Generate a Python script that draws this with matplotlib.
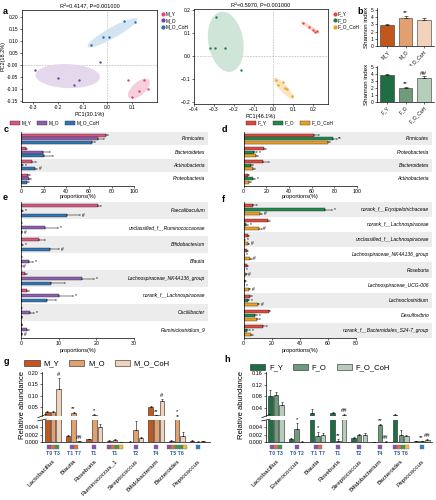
import numpy as np
import matplotlib
matplotlib.use('Agg')
import matplotlib.pyplot as plt
from matplotlib.patches import Polygon, Rectangle, Patch
from matplotlib.lines import Line2D
from matplotlib.transforms import blended_transform_factory as btf

plt.rcParams['font.family'] = ['Liberation Sans', 'DejaVu Sans']
plt.rcParams['axes.linewidth'] = 0.5

# ---------------- data ----------------
# a: PCoA (mouse model)
m_groups = ['M_Y', 'M_O', 'M_O_CoH']
m_y_pc1 = [0.084, 0.148, 0.127, 0.165, 0.100]
m_y_pc2 = [-0.064, -0.064, -0.108, -0.099, -0.134]
m_o_pc1 = [-0.290, -0.197, -0.113, -0.135, -0.030]
m_o_pc2 = [-0.020, -0.055, -0.064, -0.085, 0.011]
m_oc_pc1 = [-0.065, -0.016, 0.008, 0.067, 0.110]
m_oc_pc2 = [0.083, 0.116, 0.116, 0.182, 0.178]
# a: PCoA (fly model)
f_groups = ['F_Y', 'F_O', 'F_O_CoH']
f_y_pc1 = [0.147, 0.180, 0.197, 0.208, 0.220]
f_y_pc2 = [0.142, 0.125, 0.113, 0.106, 0.109]
f_o_pc1 = [-0.288, -0.317, -0.292, -0.245, -0.163]
f_o_pc2 = [0.171, 0.033, 0.033, 0.033, -0.061]
f_oc_pc1 = [0.012, 0.022, 0.050, 0.058, 0.067, 0.092]
f_oc_pc2 = [-0.107, -0.128, -0.116, -0.141, -0.143, -0.177]

# b: Shannon index
shannon_m = [2.9, 3.9, 3.6]
shannon_m_err = [0.15, 0.25, 0.25]
shannon_m_sig = ['', '**', '']
shannon_f = [3.9, 2.0, 3.5]
shannon_f_err = [0.12, 0.15, 0.15]
shannon_f_sig = ['', '**', '##']

# c: phyla (mouse)
phyla_c = ['Firmicutes', 'Bacteroidetes', 'Actinobacteria', 'Proteobacteria']
c_my = [75, 4.4, 10, 6]
c_my_err = [2, 1.2, 3, 2]
c_mo = [68, 19, 1, 7]
c_mo_err = [5, 7, 1, 2]
c_moc = [62.5, 20, 12, 5]
c_moc_err = [3, 8, 2, 2]
c_sig_mo = ['', '', '*', '']
c_sig_moc = ['', '', '#', '']

# d: phyla (fly)
phyla_d = ['Firmicutes', 'Proteobacteria', 'Bacteroidetes', 'Actinobacteria']
d_fy = [62, 18, 17, 4]
d_fy_err = [4, 2, 5, 1]
d_fo = [79, 9, 6, 8]
d_fo_err = [3, 3, 2, 2]
d_foc = [74, 11, 8, 5]
d_foc_err = [2, 2, 2, 1]
d_sig_fo = ['**', '*', '', '*']
d_sig_foc = ['', '', '', '']

# e: genera (mouse)
genera_e = ['Faecalibaculum', 'unclassified_f__Ruminococcaceae', 'Bifidobacterium', 'Blautia',
            'Lachnospiraceae_NK4A136_group', 'norank_f__Lachnospiraceae', 'Oscillibacter',
            'Ruminiclostridium_9']
e_my = [20.3, 0.1, 4.8, 0.1, 1.1, 1.7, 0.1, 0.2]
e_my_err = [1.0, 0.05, 1.5, 0.05, 0.4, 0.5, 0.05, 0.1]
e_mo = [0.3, 6.4, 0.3, 2.1, 16.1, 10.2, 2.4, 1.5]
e_mo_err = [0.3, 3.5, 0.3, 1.0, 3.2, 3.5, 1.0, 0.5]
e_moc = [12.1, 0.2, 7.7, 0.1, 8.0, 6.8, 0.2, 0.2]
e_moc_err = [3.5, 0.1, 2.5, 0.05, 3.8, 2.5, 0.1, 0.1]
e_sig_mo = ['*', '*', '*', '*', '*', '*', '*', '']
e_sig_moc = ['#', '#', '#', '#', '', '', '', '#']

# f: genera (fly)
genera_f = ['norank_f__Erysipelotrichaceae', 'norank_f__Lachnospiraceae',
            'unclassified_f__Lachnospiraceae', 'Lachnospiraceae_NK4A136_group', 'Roseburia',
            'Lachnospiraceae_UCG-006', 'Lachnoclostridium', 'Desulfovibrio',
            'norank_f__Bacteroidales_S24-7_group']
f_fy = [6.6, 17.3, 3.0, 2.6, 2.4, 1.2, 4.3, 17.8, 13.7]
f_fy_err = [3, 1.5, 1, 0.8, 0.8, 0.5, 1.5, 1.2, 3]
f_fo = [58, 1.9, 0.5, 0.3, 0.3, 0.3, 3.1, 7.8, 2.6]
f_fo_err = [5, 1, 0.3, 0.2, 0.2, 0.2, 1, 2, 2]
f_foc = [11.8, 10.7, 3.0, 4.7, 1.4, 3.6, 10.2, 9.7, 5.5]
f_foc_err = [1.5, 2, 0.8, 1, 0.6, 0.8, 1, 2, 1]
f_sig_fo = ['*'] * 9
f_sig_foc = ['#', '#', '#', '#', '#', '#', '#', '', '']

# g: relative abundance (mouse)
genera_g = ['Lactobacillus', 'Blautia', 'Roseburia', 'Ruminococcus_1', 'Streptococcus',
            'Bifidobacterium', 'Bacteroides', 'Peptococcus']
g_my = [0.028, 0.0015, 0.0007, 0.0004, 0.0001, 0.048, 0.0004, 0.0004]
g_my_err = [0.004, 0.0003, 0.0002, 0.0002, 0.00005, 0.006, 0.0001, 0.0002]
g_mo = [0.026, 0.025, 0.015, 0.0005, 0.0033, 0.013, 0.012, 0.0001]
g_mo_err = [0.004, 0.003, 0.002, 0.0002, 0.0022, 0.003, 0.002, 0.0001]
g_moc = [0.13, 0.0002, 0.0040, 0.00005, 0.0011, 0.075, 0.0016, 0.0003]
g_moc_err = [0.048, 0.0001, 0.0008, 0.00003, 0.0003, 0.012, 0.001, 0.0001]
g_sig_mo = ['', '**', '*', '', '', '**', '*', '']
g_sig_moc = ['#', '##', '', '', '', '#', '', '']
g_boxes = [['P', 'O', 'G'], ['P', 'O'], ['P'], ['P', 'O', 'G', 'Y'], ['P'], ['P'],
           ['P', 'O', 'G', 'G', 'Y'], ['B']]
g_box_labels = ['T0 T3', 'T1 T7', 'T1', 'T1', 'T2', 'T4', 'T5 T6', '']

# h: relative abundance (fly)
genera_h = ['Lactobacillus', 'Enterococcus', 'Blautia', 'Roseburia', 'Streptococcus',
            'Bifidobacterium', 'Bacteroides', 'Peptococcus']
h_fy = [0.082, 0.0007, 0.024, 0.022, 0.0011, 0.00005, 0.016, 0.0003]
h_fy_err = [0.018, 0.0003, 0.012, 0.005, 0.0003, 0.00003, 0.002, 0.0001]
h_fo = [0.086, 0.0035, 0.0016, 0.0004, 0.0018, 0.0046, 0.002, 0.0002]
h_fo_err = [0.01, 0.0015, 0.0012, 0.0003, 0.0004, 0.0003, 0.0012, 0.0001]
h_foc = [0.05, 0.0001, 0.0018, 0.015, 0.002, 0.0001, 0.0016, 0.0006]
h_foc_err = [0.012, 0.00005, 0.0005, 0.003, 0.0004, 0.00005, 0.0004, 0.0001]
h_sig_fo = ['', '*', '*', '**', '', '**', '', '**']
h_sig_foc = ['', '', '', '##', '', '##', '', '##']
h_boxes = [['P', 'O', 'G'], ['P'], ['P', 'O'], ['P'], ['P'], ['P'], ['P', 'O', 'G', 'Y'], ['B']]
h_box_labels = ['T0 T3', 'T0 T2', 'T1 T7', 'T1', 'T2', 'T4', 'T5 T6', '']

# ---------------- styles ----------------
BOXC = {'P': '#8b4fb0', 'O': '#e2703a', 'G': '#3a9a4a', 'Y': '#f2c12e', 'B': '#2c7fd0'}
pc_m_col = ['#e0437a', '#6a4aa0', '#2b6ea8']
pc_m_fill = ['#f7cfdc', '#e6d8ec', '#d3e5f2']
pc_f_col = ['#e04a3a', '#1f7a4a', '#f0a020']
pc_f_fill = ['#f9d6cf', '#cfe5d8', '#fbe3bf']
sh_m_col = ['#c1571d', '#e0a070', '#f2d2b8']
sh_f_col = ['#1f6e43', '#6f9a7b', '#b6cdb9']
hb_m_col = ['#d9547e', '#8a5fb0', '#2e75b6']
hb_f_col = ['#e0463c', '#1e8a4a', '#f0a020']

W, H = 436, 500
fig = plt.figure(figsize=(W / 100, H / 100), dpi=100)


def add_ax(x0, y0, x1, y1):
    return fig.add_axes([x0 / W, 1 - y1 / H, (x1 - x0) / W, (y1 - y0) / H])


def ftext(x, y, s, **kw):
    fig.text(x / W, 1 - y / H, s, **kw)


def ell(center, A, B):
    t = np.linspace(0, 2 * np.pi, 100)
    x = center[0] + A[0] * np.cos(t) + B[0] * np.sin(t)
    y = center[1] + A[1] * np.cos(t) + B[1] * np.sin(t)
    return np.column_stack([x, y])


def style_ticks(ax, size=3.5):
    ax.tick_params(labelsize=size, length=1.5, width=0.4, pad=1)


# ---------------- a: PCoA ----------------
def pcoa(ax, xs, ys, groups, cols, fills, ells, title, xlabel, ylabel, leg_xy):
    for e, fc in zip(ells, fills):
        ax.add_patch(Polygon(ell(*e), closed=True, facecolor=fc, edgecolor='none', zorder=1))
    ax.axhline(0, color='#aaaaaa', lw=0.4, ls=(0, (3, 2)), zorder=0)
    ax.axvline(0, color='#aaaaaa', lw=0.4, ls=(0, (3, 2)), zorder=0)
    for x, y, g, c in zip(xs, ys, groups, cols):
        ax.scatter(x, y, s=3, color=c, label=g, zorder=3, linewidths=0)
    ax.set_title(title, fontsize=4, pad=1.5)
    ax.set_xlabel(xlabel, fontsize=4, labelpad=0.8)
    if ylabel:
        ax.set_ylabel(ylabel, fontsize=4, labelpad=1)
    style_ticks(ax)
    handles = [Line2D([], [], marker='o', ls='', ms=2, color=c) for c in cols]
    fig.legend(handles, groups, loc='upper left', bbox_to_anchor=(leg_xy[0] / W, 1 - leg_xy[1] / H),
               fontsize=3.5, frameon=False, handletextpad=0.1, labelspacing=0.3, borderpad=0,
               handlelength=1)


ax = add_ax(22, 10, 157, 102)
pcoa(ax, [m_y_pc1, m_o_pc1, m_oc_pc1], [m_y_pc2, m_o_pc2, m_oc_pc2], m_groups, pc_m_col, pc_m_fill,
     [((0.127, -0.100), (0.040, 0.038), (0.019, -0.019)),
      ((-0.160, -0.047), (0.130, -0.005), (0.002, 0.050)),
      ((0.020, 0.133), (0.100, 0.058), (-0.011, 0.019))],
     'R²=0.4147, P=0.001000', 'PC1(30.1%)', 'PC2(18.2%)', (158, 9))
ax.set_xlim(-0.344, 0.2)
ax.set_ylim(-0.155, 0.228)
ax.set_xticks([-0.3, -0.2, -0.1, 0.0, 0.1])
ax.set_xticklabels(['-0.3', '-0.2', '-0.1', '0.0', '0.1'])
ax.set_yticks([0.20, 0.15, 0.10, 0.05, 0.0, -0.05, -0.10, -0.15])
ax.set_yticklabels(['0.20', '0.15', '0.10', '0.05', '-0.00', '-0.05', '-0.10', '-0.15'])

ax = add_ax(194, 9, 328, 104)
pcoa(ax, [f_y_pc1, f_o_pc1, f_oc_pc1], [f_y_pc2, f_o_pc2, f_oc_pc2], f_groups, pc_f_col, pc_f_fill,
     [((0.185, 0.124), (0.048, -0.026), (0.004, 0.008)),
      ((-0.240, 0.062), (-0.030, 0.130), (0.085, 0.020)),
      ((0.052, -0.142), (0.050, -0.045), (0.012, 0.012))],
     'R²=0.5970, P=0.001000', 'PC1(46.1%)', None, (330, 9))
ax.set_xlim(-0.4, 0.275)
ax.set_ylim(-0.21, 0.205)
ax.set_xticks([-0.4, -0.3, -0.2, -0.1, 0.0, 0.1, 0.2])
ax.set_yticks([0.2, 0.1, 0.0, -0.1, -0.2])

# ---------------- b: Shannon ----------------
def shannon(ax, vals, errs, sigs, labels, cols, ymax):
    x = np.arange(3)
    ax.bar(x, vals, width=0.72, color=cols, edgecolor='#333333', lw=0.4,
           yerr=[np.zeros(3), errs], error_kw=dict(elinewidth=0.4, capsize=1.2, capthick=0.4))
    for i in range(3):
        if sigs[i]:
            ax.text(x[i], vals[i] + errs[i] + 0.1, sigs[i], ha='center', va='bottom', fontsize=4.5)
    ax.set_xlim(-0.55, 2.55)
    ax.set_ylim(0, ymax)
    ax.set_yticks([0, 1, 2, 3, 4, 5])
    ax.set_xticks(x)
    ax.set_xticklabels(labels, rotation=45, ha='right', rotation_mode='anchor')
    for s in ['top', 'right']:
        ax.spines[s].set_visible(False)
    style_ticks(ax, 3.5)
    ax.set_ylabel('Shannon index', fontsize=4.5, labelpad=1.5)


ax = add_ax(377, 8, 434, 46)
shannon(ax, shannon_m, shannon_m_err, shannon_m_sig, m_groups, sh_m_col, 5.3)
ax = add_ax(377, 66, 434, 102)
shannon(ax, shannon_f, shannon_f_err, shannon_f_sig, f_groups, sh_f_col, 5.15)

# ---------------- c-f: horizontal bars ----------------
def hbars(ax, cats, vals, errs, sigs, cols, xlim, xmax, xticks, bh, off, sig_pad, lab_size=3.6):
    n = len(cats)
    ax.set_ylim(n - 0.5, -0.5)
    ax.set_xlim(0, xlim)
    for i in range(n):
        if i % 2 == 0:
            ax.axhspan(i - 0.5, i + 0.5, color='#ececec', lw=0, zorder=0)
    offs = [-off, 0, off]
    for g in range(3):
        y = np.arange(n) + offs[g]
        ax.barh(y, vals[g], height=bh, color=cols[g], edgecolor='#333333', lw=0.3,
                xerr=[np.zeros(n), errs[g]],
                error_kw=dict(elinewidth=0.35, capsize=0.8, capthick=0.35), zorder=2)
        for i in range(n):
            if sigs[g][i]:
                ax.text(vals[g][i] + errs[g][i] + sig_pad, y[i], sigs[g][i], va='center',
                        ha='left', fontsize=3.5, zorder=3)
    tr = btf(ax.transAxes, ax.transData)
    for i, c in enumerate(cats):
        ax.text(0.985, i, c, transform=tr, ha='right', va='center', style='italic', fontsize=lab_size)
    ax.set_yticks([])
    ax.set_xticks(xticks)
    for s in ['top', 'right']:
        ax.spines[s].set_visible(False)
    ax.spines['bottom'].set_bounds(0, xmax)
    style_ticks(ax, 3.8)
    ax.set_xlabel('proportions(%)', fontsize=4, labelpad=1)
    ax.xaxis.set_label_coords(xmax / 2 / xlim, -0.16 if n < 5 else -0.075)


ax = add_ax(21, 132, 208, 185.5)
hbars(ax, phyla_c, [c_my, c_mo, c_moc], [c_my_err, c_mo_err, c_moc_err],
      [[''] * 4, c_sig_mo, c_sig_moc], hb_m_col, 165, 100, [0, 20, 40, 60, 80, 100], 0.22, 0.26, 1.5)
ax = add_ax(243.7, 132, 432, 185.5)
hbars(ax, phyla_d, [d_fy, d_fo, d_foc], [d_fy_err, d_fo_err, d_foc_err],
      [[''] * 4, d_sig_fo, d_sig_foc], hb_f_col, 166, 100, [0, 20, 40, 60, 80, 100], 0.22, 0.26, 1.5)
ax = add_ax(21, 202, 208, 338)
hbars(ax, genera_e, [e_my, e_mo, e_moc], [e_my_err, e_mo_err, e_moc_err],
      [[''] * 8, e_sig_mo, e_sig_moc], hb_m_col, 49.6, 30, [0, 10, 20, 30], 0.2, 0.29, 0.5)
ax = add_ax(243.7, 202, 432, 338)
hbars(ax, genera_f, [f_fy, f_fo, f_foc], [f_fy_err, f_fo_err, f_foc_err],
      [[''] * 9, f_sig_fo, f_sig_foc], hb_f_col, 134, 80, [0, 20, 40, 60, 80], 0.2, 0.27, 1.2)

leg_c = [Patch(facecolor=c, edgecolor='#333333', lw=0.3) for c in hb_m_col]
fig.legend(leg_c, m_groups, loc='center', bbox_to_anchor=(55 / W, 1 - 123 / H), ncol=3, fontsize=3.5,
           frameon=False, handlelength=2, handleheight=0.7, columnspacing=1.2, handletextpad=0.4,
           borderpad=0)
leg_d = [Patch(facecolor=c, edgecolor='#333333', lw=0.3) for c in hb_f_col]
fig.legend(leg_d, f_groups, loc='center', bbox_to_anchor=(290 / W, 1 - 123 / H), ncol=3, fontsize=3.5,
           frameon=False, handlelength=2, handleheight=0.7, columnspacing=1.2, handletextpad=0.4,
           borderpad=0)

# ---------------- g-h: broken axes ----------------
def broken(x0, x1, genera, vals, errs, sigs, cols, top_lim, top_ticks, top_lbl, xlim,
           boxes, box_labels, ylab_x, leg_xy, groups):
    at = add_ax(x0, 372, x1, 416)
    ab = add_ax(x0, 420, x1, 442)
    n = len(genera)
    offs = [-0.27, 0, 0.27]
    bw = 0.22
    for ax in (at, ab):
        for g in range(3):
            x = np.arange(n) + offs[g]
            ax.bar(x, vals[g], width=bw, color=cols[g], edgecolor='#222222', lw=0.4,
                   yerr=[np.zeros(n), errs[g]],
                   error_kw=dict(elinewidth=0.4, capsize=0.8, capthick=0.4), zorder=2)
        ax.set_xlim(*xlim)
        for s in ['top', 'right']:
            ax.spines[s].set_visible(False)
        style_ticks(ax, 4)
    at.set_ylim(*top_lim)
    at.set_yticks(top_ticks)
    at.set_yticklabels(top_lbl)
    at.spines['bottom'].set_visible(False)
    at.set_xticks([])
    ab.set_ylim(0, 0.0059)
    ab.set_yticks([0, 0.002, 0.004])
    ab.set_yticklabels(['0.000', '0.002', '0.004'])
    for g in range(3):
        for i in range(n):
            if sigs[g][i]:
                top = vals[g][i] + errs[g][i]
                axx = at if top > top_lim[0] else ab
                yy = top + (0.004 if axx is at else 0.0003)
                axx.text(i + offs[g], yy, sigs[g][i], ha='center', va='bottom', fontsize=4.2,
                         zorder=3)
    # break marks
    for axx, yv in ((at, 0.0), (ab, 1.0)):
        axx.plot([-0.025, 0.025], [yv - 0.04, yv + 0.04], transform=axx.transAxes, color='k',
                 lw=0.5, clip_on=False)
    # x labels
    ab.set_xticks(np.arange(n))
    ab.set_xticklabels(genera, rotation=45, ha='right', rotation_mode='anchor', fontsize=4.6)
    ab.tick_params(axis='x', length=0, pad=12)
    # boxes
    tr = btf(ab.transData, ab.transAxes)
    sq = 0.19
    for i, bl in enumerate(boxes):
        k = len(bl)
        start = i - k * sq / 2
        for j, c in enumerate(bl):
            ab.add_patch(Rectangle((start + j * sq, -0.33), sq, 0.19, transform=tr,
                                   facecolor=BOXC[c], edgecolor='#777777', lw=0.3, clip_on=False))
        if box_labels[i]:
            ab.text(i, -0.42, box_labels[i], transform=tr, ha='center', va='top', fontsize=3.8,
                    color='#2a5caa', fontweight='bold')
    ftext(ylab_x, 405, 'Relative abundance', rotation=90, ha='center', va='center', fontsize=5.5)
    handles = [Patch(facecolor=c, edgecolor='#222222', lw=0.4) for c in cols]
    fig.legend(handles, groups, loc='center', bbox_to_anchor=(leg_xy[0] / W, 1 - leg_xy[1] / H),
               ncol=3, fontsize=5.5, frameon=False, handlelength=2, handleheight=0.7,
               columnspacing=1.3, handletextpad=0.5)


broken(42, 210, genera_g, [g_my, g_mo, g_moc], [g_my_err, g_mo_err, g_moc_err],
       [[''] * 8, g_sig_mo, g_sig_moc], sh_m_col, (0.01, 0.205), [0.05, 0.10, 0.15, 0.20],
       ['0.05', '0.10', '0.15', '0.20'], (-0.53, 7.6), g_boxes, g_box_labels, 22, (97, 364),
       m_groups)
broken(266, 432, genera_h, [h_fy, h_fo, h_foc], [h_fy_err, h_fo_err, h_foc_err],
       [[''] * 8, h_sig_fo, h_sig_foc], sh_f_col, (0.0126, 0.1634), [0.04, 0.08, 0.12, 0.16],
       ['0.04', '0.08', '0.12', '0.16'], (-0.48, 7.5), h_boxes, h_box_labels, 241, (320, 368),
       f_groups)

# panel letters
for lt, x, y in [('a', 3, 12), ('b', 357, 12), ('c', 4, 130), ('d', 222, 130), ('e', 3, 198),
                 ('f', 222, 199), ('g', 4, 362), ('h', 224, 359)]:
    ftext(x, y, lt, fontsize=6.5, fontweight='bold', ha='left', va='center')

fig.savefig('out.png', dpi=100)
